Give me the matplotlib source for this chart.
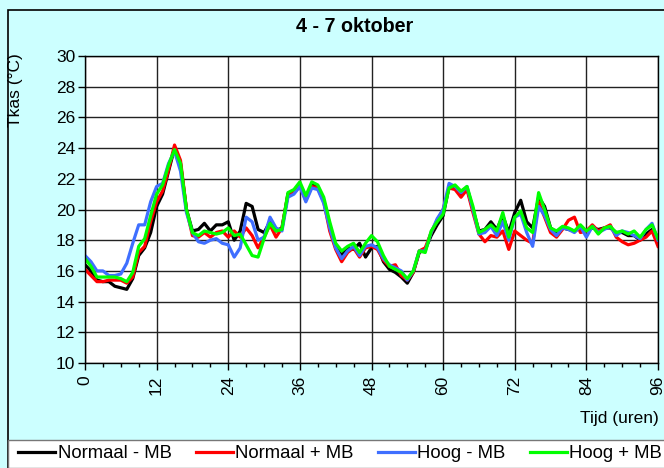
import matplotlib
matplotlib.use("Agg")
import matplotlib.pyplot as plt
from matplotlib.patches import Rectangle
from matplotlib.lines import Line2D
import numpy as np

plt.rcParams['font.family'] = ['Liberation Sans', 'DejaVu Sans']

# uurwaarden kastemperatuur, 4 - 7 oktober
uren = np.arange(0, 97)

normaal_min_mb = [16.4, 16.0, 15.4, 15.3, 15.3, 15.0, 14.9, 14.8, 15.5, 17.0,
                  17.5, 18.5, 20.2, 21.0, 22.5, 24.0, 23.0, 20.0, 18.6, 18.7,
                  19.1, 18.6, 19.0, 19.0, 19.2, 18.0, 18.6, 20.4, 20.2, 18.7,
                  18.5, 19.2, 18.6, 18.8, 21.0, 21.2, 21.6, 20.7, 21.6, 21.5,
                  20.6, 19.0, 17.6, 17.0, 17.5, 17.4, 17.8, 16.9, 17.5, 17.6,
                  16.6, 16.1, 15.9, 15.6, 15.2, 15.9, 17.2, 17.4, 18.3, 19.0,
                  19.6, 21.5, 21.4, 20.9, 21.4, 20.0, 18.6, 18.7, 19.2, 18.7,
                  19.6, 18.5, 19.8, 20.6, 19.2, 18.8, 20.8, 20.2, 18.8, 18.5,
                  18.8, 18.7, 18.6, 18.8, 18.6, 18.8, 18.7, 18.8, 18.8, 18.5,
                  18.5, 18.3, 18.3, 18.0, 18.4, 18.7, 18.2]

normaal_plus_mb = [16.1, 15.7, 15.3, 15.3, 15.4, 15.4, 15.4, 15.2, 15.6, 17.2,
                   17.6, 19.2, 20.5, 21.2, 22.6, 24.2, 23.2, 20.0, 18.3, 18.2,
                   18.5, 18.2, 18.5, 18.6, 18.2, 18.6, 18.2, 18.8, 18.3, 17.5,
                   18.2, 19.0, 18.2, 18.8, 21.0, 21.1, 21.5, 20.6, 21.5, 21.4,
                   20.5, 18.6, 17.4, 16.6, 17.2, 17.5, 16.9, 17.5, 17.6, 17.4,
                   16.7, 16.3, 16.4, 15.7, 15.4, 15.9, 17.3, 17.5, 18.5, 19.3,
                   20.0, 21.4, 21.3, 20.8, 21.3, 19.8, 18.4, 17.9, 18.3, 18.2,
                   18.6, 17.4, 18.6, 18.3, 18.0, 17.8, 20.5, 19.5, 18.5, 18.2,
                   18.7, 19.3, 19.5, 18.5, 18.6, 19.0, 18.6, 18.8, 19.0, 18.2,
                   17.9, 17.7, 17.8, 18.0, 18.2, 18.6, 17.6]

hoog_min_mb = [17.0, 16.6, 16.0, 16.0, 15.7, 15.7, 15.8, 16.5, 17.8, 19.0,
               19.0, 20.5, 21.5, 21.7, 23.0, 23.8, 22.5, 19.8, 18.5, 17.9,
               17.8, 18.0, 18.1, 17.8, 17.7, 16.9, 17.5, 19.5, 19.2, 18.0,
               18.2, 19.5, 18.8, 18.6, 20.8, 21.0, 21.5, 20.5, 21.4, 21.3,
               20.4, 18.8, 17.5, 16.8, 17.3, 17.6, 17.0, 17.6, 17.7, 17.5,
               16.8, 16.4, 16.2, 16.0, 15.4, 16.0, 17.3, 17.3, 18.5, 19.4,
               20.0, 21.7, 21.5, 21.1, 21.5, 20.0, 18.4, 18.5, 18.9, 18.3,
               19.2, 18.0, 19.5, 19.7, 18.5, 17.6, 20.2, 19.6, 18.7, 18.3,
               18.8, 18.7, 18.5, 18.9, 18.2, 18.9, 18.5, 18.7, 18.9, 18.3,
               18.6, 18.5, 18.3, 18.1, 18.7, 19.1, 18.0]

hoog_plus_mb = [16.8, 16.3, 15.6, 15.6, 15.6, 15.6, 15.5, 15.3, 15.9, 17.6,
                18.1, 19.6, 21.0, 21.6, 22.9, 23.9, 23.0, 20.0, 18.5, 18.3,
                18.6, 18.5, 18.4, 18.5, 18.8, 18.3, 18.4, 17.7, 17.0, 16.9,
                18.1, 19.1, 18.6, 18.7, 21.1, 21.3, 21.8, 20.9, 21.8, 21.6,
                20.8, 19.2, 17.8, 17.3, 17.6, 17.8, 17.2, 17.8, 18.3, 17.9,
                17.0, 16.3, 16.1, 15.9, 15.5, 16.0, 17.3, 17.2, 18.6, 19.2,
                19.7, 21.4, 21.6, 21.2, 21.5, 20.2, 18.5, 18.7, 19.0, 18.6,
                19.8, 18.2, 19.5, 19.9, 18.8, 18.5, 21.1, 20.0, 18.8, 18.6,
                18.9, 18.8, 18.6, 19.0, 18.6, 18.9, 18.4, 18.8, 18.9, 18.5,
                18.6, 18.4, 18.6, 18.2, 18.7, 19.0, 18.1]

series = [("Normaal - MB", normaal_min_mb, "black"),
          ("Normaal + MB", normaal_plus_mb, "#FF0000"),
          ("Hoog - MB", hoog_min_mb, "#3F6FFF"),
          ("Hoog + MB", hoog_plus_mb, "#00FF00")]

W, H = 664, 468
fs = 12.5
fig = plt.figure(figsize=(W / 100, H / 100), dpi=100)
fig.patch.set_facecolor("#CCFFFF")

# buitenrand en witte legendabalk
fig.patches.append(Rectangle((8 / W, 0), 1, 1 - 10 / H, transform=fig.transFigure,
                             facecolor="none", edgecolor="black", linewidth=1.2))
fig.patches.append(Rectangle((8 / W, 0), 1, 1 - 440 / H, transform=fig.transFigure,
                             facecolor="white", edgecolor="#777777", linewidth=1.0))

ax = fig.add_axes([85 / W, 1 - 363 / H, (658 - 85) / W, (363 - 56) / H])
ax.set_facecolor("white")

for naam, waarden, kleur in series:
    ax.plot(uren, waarden, color=kleur, linewidth=2.3, label=naam)

ax.set_xlim(0, 96)
ax.set_ylim(10, 30)
ax.set_xticks(np.arange(0, 97, 12))
ax.set_xticks(np.arange(0, 97, 3), minor=True)
ax.set_yticks(np.arange(10, 31, 2))
ax.grid(True, which="major", color="#222222", linewidth=1.0)
ax.tick_params(axis="x", which="major", direction="out", length=5, width=1,
               labelrotation=90, labelsize=fs, pad=4)
ax.tick_params(axis="x", which="minor", direction="out", length=3, width=1)
ax.tick_params(axis="y", direction="out", length=5, width=1, labelsize=fs, pad=2)
for s in ax.spines.values():
    s.set_color("black")
    s.set_linewidth(1.0)

fig.text(355 / W, 1 - 26 / H, "4 - 7 oktober", ha="center", va="center",
         fontsize=14.2, fontweight="bold")
fig.text(16 / W, 1 - 90 / H, "Tkas (°C)", ha="center", va="center",
         rotation=90, fontsize=fs)
fig.text(580 / W, 1 - 418 / H, "Tijd (uren)", ha="left", va="center", fontsize=fs)

handles = [Line2D([], [], color=k, linewidth=2.3) for _, _, k in series]
fig.legend(handles, [n for n, _, _ in series], loc="center left",
           bbox_to_anchor=(18 / W, 1 - 454 / H), ncol=4, frameon=False,
           borderpad=0, borderaxespad=0,
           fontsize=13.3, handlelength=2.0, handletextpad=0.15, columnspacing=1.3)

fig.savefig("out.png", dpi=100, facecolor=fig.get_facecolor())
